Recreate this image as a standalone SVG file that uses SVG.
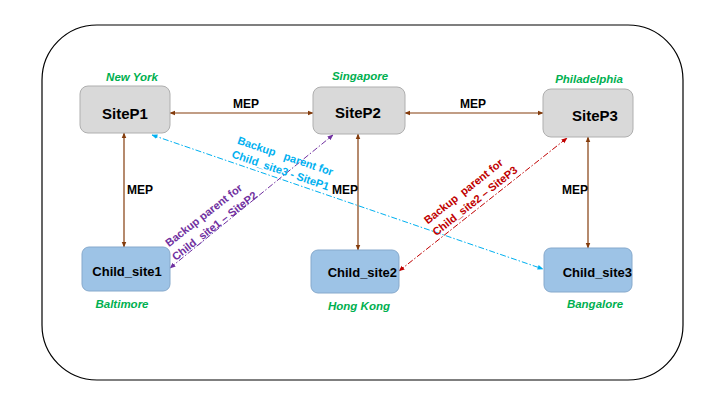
<svg xmlns="http://www.w3.org/2000/svg" width="720" height="405" viewBox="0 0 720 405">
<defs>
<style>
.frame{fill:none;stroke:#000;stroke-width:1.2}
.site{fill:#d9d9d9;stroke:#afafaf;stroke-width:1}
.child{fill:#9dc3e6;stroke:#86a9cc;stroke-width:1}
.nt{font-family:"Liberation Sans",Arial,sans-serif;font-weight:bold;fill:#000}
.loc{font-family:"Liberation Sans",Arial,sans-serif;font-weight:bold;font-style:italic;font-size:11.5px;fill:#00b050;text-anchor:middle}
.mep{font-family:"Liberation Sans",Arial,sans-serif;font-weight:bold;font-size:12px;fill:#000;text-anchor:middle}
.lbl{font-family:"Liberation Sans",Arial,sans-serif;font-weight:bold;font-size:11px;text-anchor:middle;white-space:pre}
.brown{stroke:#843c0c;stroke-width:1.2;fill:none;marker-start:url(#ab);marker-end:url(#ab)}
.dd{stroke-width:1;fill:none;stroke-dasharray:6 2 1.5 2}
</style>
<marker id="ab" viewBox="0 0 10 10" refX="9" refY="5" markerWidth="6" markerHeight="6" markerUnits="userSpaceOnUse" orient="auto-start-reverse"><path d="M0,1 L10,5 L0,9 z" fill="#843c0c"/></marker>
<marker id="ac" viewBox="0 0 10 10" refX="9" refY="5" markerWidth="6" markerHeight="6" markerUnits="userSpaceOnUse" orient="auto-start-reverse"><path d="M0,1 L10,5 L0,9 z" fill="#00b0f0"/></marker>
<marker id="ap" viewBox="0 0 10 10" refX="9" refY="5" markerWidth="6" markerHeight="6" markerUnits="userSpaceOnUse" orient="auto-start-reverse"><path d="M0,1 L10,5 L0,9 z" fill="#7030a0"/></marker>
<marker id="ar" viewBox="0 0 10 10" refX="9" refY="5" markerWidth="6" markerHeight="6" markerUnits="userSpaceOnUse" orient="auto-start-reverse"><path d="M0,1 L10,5 L0,9 z" fill="#c00000"/></marker>
</defs>
<rect class="frame" x="42" y="25" width="641" height="355" rx="55" ry="55"/>

<g id="connectors">
<line class="brown" x1="170" y1="113" x2="313" y2="113"/>
<line class="brown" x1="405" y1="113" x2="543" y2="113"/>
<line class="brown" x1="124" y1="133" x2="124" y2="247"/>
<line class="brown" x1="358" y1="134" x2="358" y2="250"/>
<line class="brown" x1="588" y1="137" x2="588" y2="248"/>
<text class="mep" x="246" y="108">MEP</text>
<text class="mep" x="473" y="108">MEP</text>
<text class="mep" x="140" y="194">MEP</text>
<text class="mep" x="345" y="194">MEP</text>
<text class="mep" x="575" y="194">MEP</text>
<line class="dd" stroke="#00b0f0" x1="152" y1="135" x2="543" y2="269" marker-start="url(#ac)" marker-end="url(#ac)"/>
<line class="dd" stroke="#7030a0" x1="170" y1="268" x2="333" y2="135" marker-start="url(#ap)" marker-end="url(#ap)"/>
<line class="dd" stroke="#c00000" x1="399" y1="271" x2="567" y2="138" marker-start="url(#ar)" marker-end="url(#ar)"/>
<g transform="translate(152,135) rotate(18.9)" fill="#00b0f0">
<text class="lbl" x="133" y="-19.5" xml:space="preserve">Backup   parent for</text>
<text class="lbl" x="133" y="-4.5">Child_site3 - SiteP1</text>
</g>
<g transform="translate(170,268) rotate(-38)" fill="#7030a0">
<text class="lbl" x="59" y="-17">Backup parent for</text>
<text class="lbl" x="61" y="-2">Child_site1 – SiteP2</text>
</g>
<g transform="translate(399,271) rotate(-38.4)" fill="#c00000">
<text class="lbl" x="100" y="-18.5" xml:space="preserve">Backup  parent for</text>
<text class="lbl" x="103" y="-4">Child_site2 – SiteP3</text>
</g>
</g>

<g id="SiteP1">
<rect class="site" x="80" y="86" width="90" height="47" rx="8"/>
<text class="nt" x="125" y="119" font-size="15" text-anchor="middle">SiteP1</text>
<text class="loc" x="132" y="81">New York</text>
</g>
<g id="SiteP2">
<rect class="site" x="313" y="87" width="92" height="47" rx="8"/>
<text class="nt" x="358" y="118" font-size="15" text-anchor="middle">SiteP2</text>
<text class="loc" x="360" y="80">Singapore</text>
</g>
<g id="SiteP3">
<rect class="site" x="543" y="89" width="90" height="48" rx="8"/>
<text class="nt" x="595" y="121" font-size="15" text-anchor="middle">SiteP3</text>
<text class="loc" x="589" y="83">Philadelphia</text>
</g>
<g id="Child_site1">
<rect class="child" x="82" y="247" width="88" height="44" rx="7"/>
<text class="nt" x="127" y="276" font-size="13" text-anchor="middle">Child_site1</text>
<text class="loc" x="122" y="308">Baltimore</text>
</g>
<g id="Child_site2">
<rect class="child" x="311" y="250" width="88" height="43" rx="7"/>
<text class="nt" x="397" y="277" font-size="13" text-anchor="end">Child_site2</text>
<text class="loc" x="359" y="310">Hong Kong</text>
</g>
<g id="Child_site3">
<rect class="child" x="544" y="248" width="88" height="44" rx="7"/>
<text class="nt" x="632" y="277" font-size="13" text-anchor="end">Child_site3</text>
<text class="loc" x="595" y="308">Bangalore</text>
</g>
</svg>
